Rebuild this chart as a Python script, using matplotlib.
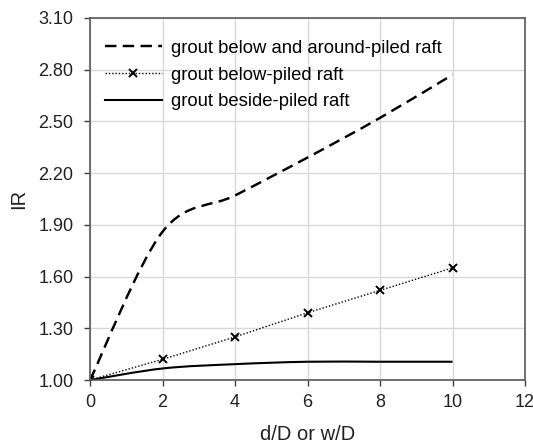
import matplotlib.pyplot as plt
import numpy as np
from matplotlib.path import Path
from matplotlib.patches import PathPatch
from matplotlib.lines import Line2D

plt.rcParams['font.family'] = ['Liberation Sans', 'DejaVu Sans']

x = [0, 2, 4, 6, 8, 10]
below_around = [1.00, 1.86, 2.07, 2.29, 2.52, 2.77]
below = [1.00, 1.12, 1.25, 1.39, 1.52, 1.65]
beside = [1.00, 1.067, 1.092, 1.106, 1.106, 1.106]

labels = ['grout below and around-piled raft', 'grout below-piled raft',
          'grout beside-piled raft']

DASH = (0, (4.7, 2.6))
DOT = (0, (1, 1.4))


def smooth_path(xs, ys):
    # Catmull-Rom -> cubic Bezier, like a spreadsheet "smoothed line"
    pts = np.column_stack([xs, ys]).astype(float)
    verts = [pts[0]]
    codes = [Path.MOVETO]
    n = len(pts)
    for i in range(n - 1):
        p0 = pts[i - 1] if i > 0 else pts[i]
        p1 = pts[i]
        p2 = pts[i + 1]
        p3 = pts[i + 2] if i + 2 < n else pts[i + 1]
        c1 = p1 + (p2 - p0) / 6
        c2 = p2 - (p3 - p1) / 6
        verts += [c1, c2, p2]
        codes += [Path.CURVE4] * 3
    return Path(verts, codes)


fig, ax = plt.subplots(figsize=(5.33, 4.45), dpi=100)
fig.subplots_adjust(left=0.169, right=0.985, top=0.960, bottom=0.146)

ax.add_patch(PathPatch(smooth_path(x, below_around), fill=False, ec='black',
                       lw=1.75, ls=DASH))
ax.add_patch(PathPatch(smooth_path(x, beside), fill=False, ec='black', lw=1.5))
ax.plot(x, below, color='black', lw=1.0, ls=DOT, marker='x',
        markersize=5.5, markeredgewidth=1.4)

ax.set_xlim(0, 12)
ax.set_ylim(1.0, 3.1)
ax.set_xticks(np.arange(0, 13, 2))
ax.set_yticks(np.arange(1.0, 3.11, 0.3))
ax.set_yticklabels([f'{v:.2f}' for v in np.arange(1.0, 3.11, 0.3)])
ax.tick_params(labelsize=13, colors='#404040', length=4, width=1, labelcolor='#222222')
ax.tick_params(axis='y', pad=8)
ax.tick_params(axis='x', pad=6)
ax.grid(True, color='#d9d9d9', lw=1)
ax.set_axisbelow(True)
for s in ax.spines.values():
    s.set_color('#595959')
    s.set_linewidth(1.2)

ax.set_xlabel('d/D or w/D', fontsize=14.5, color='#222222', labelpad=10)
ax.set_ylabel('IR', fontsize=14.5, color='#222222', labelpad=7)

handles = [
    Line2D([], [], color='black', lw=1.75, ls=DASH),
    Line2D([], [], color='black', lw=1.0, ls=DOT, marker='x',
           markersize=5.5, markeredgewidth=1.4),
    Line2D([], [], color='black', lw=1.5),
]
ax.legend(handles, labels, loc='upper left', frameon=False, fontsize=13.3,
          handlelength=3.1, handletextpad=0.5, labelspacing=0.54,
          borderpad=0, borderaxespad=0, bbox_to_anchor=(0.034, 0.94))

fig.savefig('out.png', dpi=100)
